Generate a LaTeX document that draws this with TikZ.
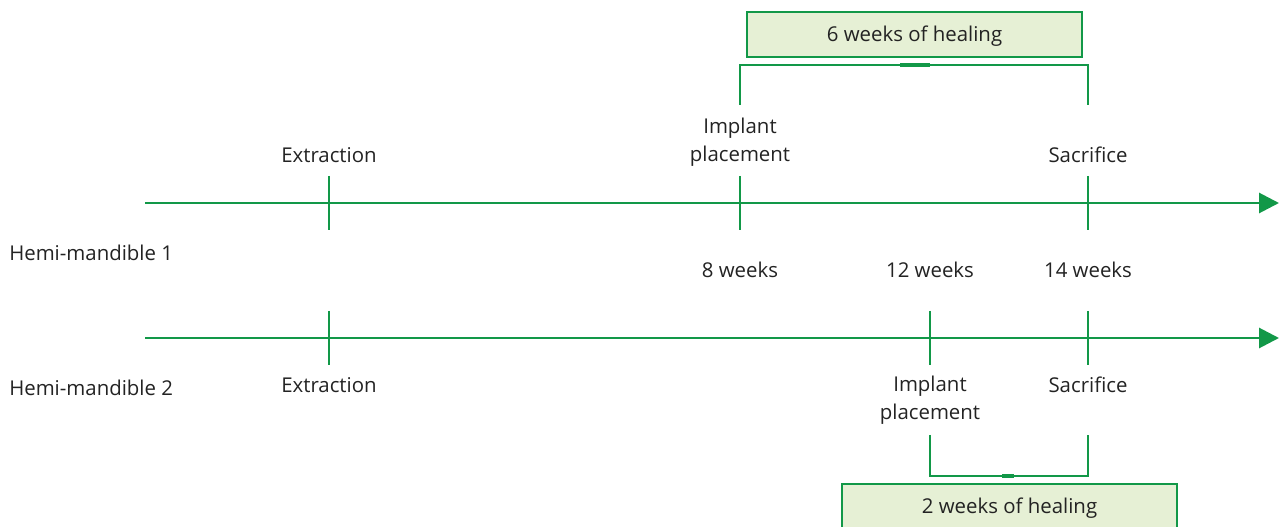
\documentclass[tikz,border=0pt]{standalone}
\usepackage{fontspec}
\setmainfont{Open Sans}
\usetikzlibrary{arrows.meta}
\definecolor{grn}{RGB}{18,152,72}
\definecolor{boxfill}{RGB}{230,240,213}
\definecolor{txt}{RGB}{35,35,35}
\begin{document}
\begin{tikzpicture}[x=0.75pt,y=-0.75pt,
  axis/.style={draw=grn,line width=2.2pt,-{Triangle[length=15pt,width=15pt]}},
  tick/.style={draw=grn,line width=2.2pt},
  brk/.style={draw=grn,line width=2.2pt},
  lbl/.style={text=txt,font=\fontsize{15.3}{21}\selectfont,inner sep=0pt,align=center},
  hbox/.style={draw=grn,line width=0.8pt,fill=boxfill},
  htxt/.style={text=txt,font=\fontsize{15.3}{21}\selectfont,inner sep=0pt}]
\useasboundingbox (0,0) rectangle (1279,527);
\begin{scope}
\clip (0,0) rectangle (1279,527);
% axes
\coordinate (a1s) at (145,203); \coordinate (a1e) at (1279,203);
\coordinate (a2s) at (145,338); \coordinate (a2e) at (1279,338);
\draw[axis] (a1s) -- (a1e);
\draw[axis] (a2s) -- (a2e);
% ticks axis 1
\coordinate (t1a) at (329,176); \coordinate (t1b) at (329,230);
\coordinate (t2a) at (740,176); \coordinate (t2b) at (740,230);
\coordinate (t3a) at (1088,176); \coordinate (t3b) at (1088,230);
\draw[tick] (t1a) -- (t1b);
\draw[tick] (t2a) -- (t2b);
\draw[tick] (t3a) -- (t3b);
% ticks axis 2
\coordinate (u1a) at (329,311); \coordinate (u1b) at (329,365);
\coordinate (u2a) at (930,311); \coordinate (u2b) at (930,365);
\coordinate (u3a) at (1088,311); \coordinate (u3b) at (1088,365);
\draw[tick] (u1a) -- (u1b);
\draw[tick] (u2a) -- (u2b);
\draw[tick] (u3a) -- (u3b);
% labels
\node[lbl] (ex1) at (329,155) {Extraction};
\node[lbl] (ip1) at (740,142) {Implant\\placement};
\node[lbl] (sa1) at (1088,155) {Sacrifice};
\node[lbl,anchor=west] (hm1) at (9,253) {Hemi-mandible 1};
\node[lbl] (w8) at (740,270) {8 weeks};
\node[lbl] (w12) at (930,270) {12 weeks};
\node[lbl] (w14) at (1088,270) {14 weeks};
\node[lbl,anchor=west] (hm2) at (9,388) {Hemi-mandible 2};
\node[lbl] (ex2) at (329,385) {Extraction};
\node[lbl] (ip2) at (930,400) {Implant\\placement};
\node[lbl] (sa2) at (1088,385) {Sacrifice};
% top bracket and box
\path[hbox] (747,12) rectangle (1082,57);
\node[htxt] (b6t) at (914.5,36) {6 weeks of healing};
\coordinate (k1a) at (740,105); \coordinate (k1b) at (740,65);
\coordinate (k1c) at (1088,65); \coordinate (k1d) at (1088,105);
\draw[brk] (k1a) -- (k1b) -- (k1c) -- (k1d);
\draw[grn,line width=3pt] (900,65) -- (930,65);
% bottom bracket and box
\path[hbox] (842,484) rectangle (1177,535);
\node[htxt] (b2t) at (1009.5,508) {2 weeks of healing};
\coordinate (k2a) at (930,435); \coordinate (k2b) at (930,476);
\coordinate (k2c) at (1088,476); \coordinate (k2d) at (1088,435);
\draw[brk] (k2a) -- (k2b) -- (k2c) -- (k2d);
\draw[grn,line width=3pt] (1002,476) -- (1014,476);
\end{scope}
\end{tikzpicture}
\end{document}
